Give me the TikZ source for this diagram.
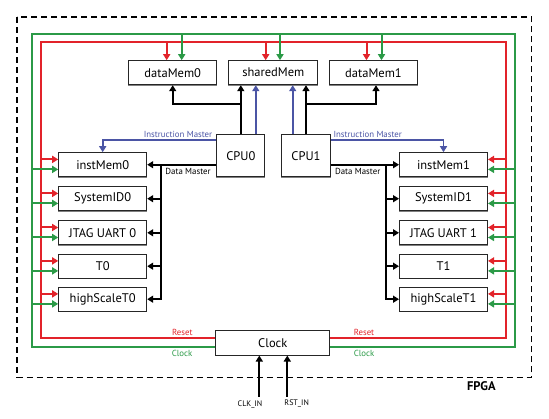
\documentclass[tikz,border=0pt]{standalone}
\usepackage{fontspec}
\setmainfont{PT Sans}
\usetikzlibrary{arrows.meta,calc}
\definecolor{cred}{HTML}{E2232A}
\definecolor{cgreen}{HTML}{2B9A47}
\definecolor{cblue}{HTML}{4B55A5}
\begin{document}
\begin{tikzpicture}[x=1pt,y=-1pt,
  box/.style={draw=black!85, line width=1pt, fill=white, minimum width=88pt, minimum height=24pt, inner sep=0pt, font=\fontsize{12.5}{14}\selectfont,
    append after command={\pgfextra{\draw[gray, line width=1.4pt] (\tikzlastnode.south west) -- (\tikzlastnode.south east);}}},
  tip/.style={-{Triangle[length=6pt,width=7pt]}},
  blk/.style={tip, line width=2pt, black},
  rd/.style={tip, line width=2pt, cred},
  gr/.style={tip, line width=2pt, cgreen},
  bl/.style={tip, line width=1.7pt, cblue},
  small/.style={font=\fontsize{8.8}{10}\selectfont, inner sep=0pt}
]
\useasboundingbox (0,0) rectangle (549,419);
\draw[line width=1.5pt, dash pattern=on 6pt off 4pt] (17,17) rectangle (531.7,377.3);
\node[font=\bfseries\fontsize{12.5}{14}\selectfont, inner sep=0pt] (fpga) at (481.3,386) {FPGA};

% top memories
\node[box] (dm0) at (172.7,72.7) {dataMem0};
\node[box, minimum width=88.7pt] (sm) at (273.3,72.7) {sharedMem};
\node[box] (dm1) at (373.5,72.7) {dataMem1};
% CPUs
\node[box, minimum width=48.3pt, minimum height=42pt] (cpu0) at (240.8,155.7) {CPU0};
\node[box, minimum width=48.6pt, minimum height=42pt] (cpu1) at (306,155.7) {CPU1};
% left column
\node[box] (im0) at (102.7,164.7) {instMem0};
\node[box] (sid0) at (102.7,198.7) {SystemID0};
\node[box] (ju0) at (102.7,232.8) {JTAG UART 0};
\node[box] (t0) at (102.7,266.2) {T0};
\node[box] (hs0) at (102.7,299.2) {highScaleT0};
% right column
\node[box] (im1) at (443.5,164.7) {instMem1};
\node[box] (sid1) at (443.5,198.7) {SystemID1};
\node[box] (ju1) at (443.5,232.8) {JTAG UART 1};
\node[box] (t1) at (443.5,266.2) {T1};
\node[box] (hs1) at (443.5,299.2) {highScaleT1};
% clock
\node[box, minimum width=113.7pt, minimum height=24.3pt] (clk) at (272.8,342.9) {Clock};

% reset / clock loops
\draw[line width=2pt, cgreen] (clk.west |- 0,347.5) -- (32,347.5) -- (32,34) -- (514.5,34) -- (514.5,347.5) -- (clk.east |- 0,347.5);
\draw[line width=2pt, cred] (clk.west |- 0,338.4) -- (40.7,338.4) -- (40.7,42) -- (505.7,42) -- (505.7,338.4) -- (clk.east |- 0,338.4);

% top arrows
\foreach \n/\r/\g in {dm0/-6/9, sm/-7.6/6.7, dm1/-7/8}{
  \draw[rd] ([xshift=\r pt]\n.north |- 0,42) -- ([xshift=\r pt]\n.north);
  \draw[gr] ([xshift=\g pt]\n.north |- 0,34) -- ([xshift=\g pt]\n.north);
}
% side arrows
\foreach \n in {im0,sid0,ju0,t0,hs0}{
  \draw[rd] ([yshift=5.3pt]\n.west -| 40.7,0) -- ([yshift=5.3pt]\n.west);
  \draw[gr] ([yshift=-4.7pt]\n.west -| 32,0) -- ([yshift=-4.7pt]\n.west);
}
\foreach \n in {im1,sid1,ju1,t1,hs1}{
  \draw[rd] ([yshift=5.3pt]\n.east -| 505.7,0) -- ([yshift=5.3pt]\n.east);
  \draw[gr] ([yshift=-4.7pt]\n.east -| 514.5,0) -- ([yshift=-4.7pt]\n.east);
}

% CPU0 to memories
\draw[blk] (cpu0.north) -- (cpu0.north |- sm.south);
\draw[blk] (cpu0.north |- 0,104) -- (dm0.south |- 0,104) -- (dm0.south);
\draw[bl] ([xshift=15pt]cpu0.north) -- ([xshift=15pt]cpu0.north |- sm.south);
% CPU1 to memories
\draw[blk] (cpu1.north) -- (cpu1.north |- sm.south);
\draw[blk] (cpu1.north |- 0,104) -- ([xshift=2.5pt]dm1.south |- 0,104) -- ([xshift=2.5pt]dm1.south);
\draw[bl] ([xshift=-13.3pt]cpu1.north) -- ([xshift=-13.3pt]cpu1.north |- sm.south);

% instruction masters
\draw[bl] (cpu0.west |- 0,140) -- (im0.north |- 0,140) -- (im0.north);
\draw[bl] (cpu1.east |- 0,140) -- (im1.north |- 0,140) -- (im1.north);
\node[small, text=cblue] (ilab0) at (178,134.5) {Instruction Master};
\node[small, text=cblue] (ilab1) at (367.7,134.5) {Instruction Master};

% data masters
\draw[blk] (cpu0.west |- im0) -- (im0.east);
\draw[blk] (im0.east -| 160.7,0) -- (hs0.east -| 160.7,0) -- (hs0.east);
\foreach \n in {sid0,ju0,t0}{ \draw[blk] (\n.east -| 160.7,0) -- (\n.east); }
\draw[blk] (cpu1.east |- im1) -- (im1.west);
\draw[blk] (im1.west -| 386,0) -- (hs1.west -| 386,0) -- (hs1.west);
\foreach \n in {sid1,ju1,t1}{ \draw[blk] (\n.west -| 386,0) -- (\n.west); }
\node[small] (dlab0) at (188,171.7) {Data Master};
\node[small] (dlab1) at (357.7,171.7) {Data Master};

% loop labels
\node[small, text=cred] (rl0) at (182.3,332) {Reset};
\node[small, text=cred] (rl1) at (364,332) {Reset};
\node[small, text=cgreen] (cl0) at (182,353.7) {Clock};
\node[small, text=cgreen] (cl1) at (364,353.7) {Clock};

% inputs
\node[small, font=\fontsize{8}{9}\selectfont] (clkin) at (250,404) {CLK\_IN};
\node[small, font=\fontsize{8}{9}\selectfont] (rstin) at (296.7,403.5) {RST\_IN};
\coordinate (clkarr) at (259.3,396.7);
\coordinate (rstarr) at (287.3,396.7);
\draw[blk] (clkarr) -- (clkarr |- clk.south);
\draw[blk] (rstarr) -- (rstarr |- clk.south);
\end{tikzpicture}
\end{document}
